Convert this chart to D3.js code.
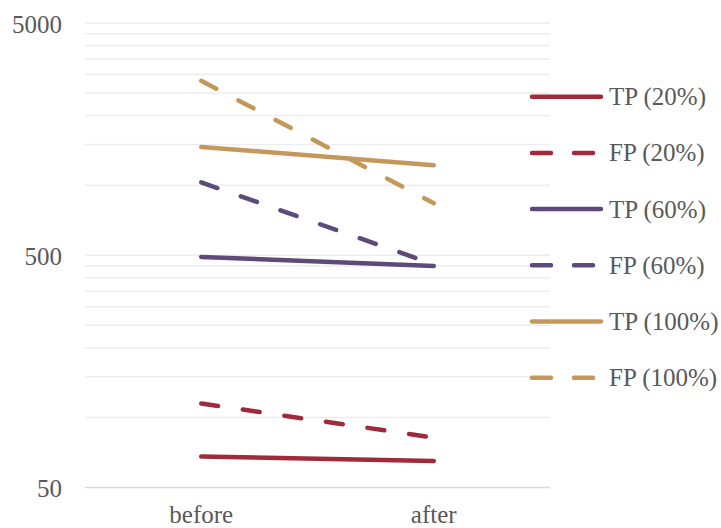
<!DOCTYPE html>
<html>
<head>
<meta charset="utf-8">
<script src="https://cdn.jsdelivr.net/npm/d3@7"></script>
<style>
  html, body { margin: 0; padding: 0; background: #fff; }
  svg { display: block; }
  text { font-family: "Liberation Serif", "Times New Roman", serif; fill: #595959; }
</style>
</head>
<body>
<svg id="chart" width="721" height="528"></svg>
<script>
// Stages on the x axis
const categories = ["before", "after"];

// Series labels, values per stage, colours and line style
const seriesNames = ["TP (20%)", "FP (20%)", "TP (60%)", "FP (60%)", "TP (100%)", "FP (100%)"];
const tp20 = [68, 65];
const fp20 = [115, 82];
const tp60 = [492, 449];
const fp60 = [1030, 457];
const tp100 = [1464, 1221];
const fp100 = [2818, 838];
const seriesValues = [tp20, fp20, tp60, fp60, tp100, fp100];
const seriesColors = ["#9E2A3A", "#9E2A3A", "#5D4A7B", "#5D4A7B", "#C4985A", "#C4985A"];
const seriesDashed = [false, true, false, true, false, true];

// Log axis labels and minor gridlines
const tickLabels = [50, 500, 5000];
const gridValues = [];
[50, 500].forEach(base => { for (let k = 1; k <= 10; k++) gridValues.push(base * k); });

const svg = d3.select("#chart");

const x = d3.scaleBand().domain(categories).range([85, 550]);
const y = d3.scaleLog().domain([50, 5000]).range([487.5, 23]);

// Gridlines
svg.append("g")
  .selectAll("line")
  .data(Array.from(new Set(gridValues)))
  .join("line")
  .attr("x1", 85).attr("x2", 550)
  .attr("y1", d => y(d)).attr("y2", d => y(d))
  .attr("stroke", d => d === 50 ? "#D9D9D9" : "#EDEDED")
  .attr("stroke-width", 1.5);

// Y axis labels
const yAxis = svg.append("g").attr("transform", "translate(62,0)")
  .call(d3.axisLeft(y).tickValues(tickLabels).tickFormat(d3.format("d")).tickSize(0).tickPadding(0));
yAxis.select(".domain").remove();
yAxis.selectAll("text")
  .attr("font-size", 25)
  .attr("font-family", "Liberation Serif, serif")
  .attr("fill", "#595959")
  .attr("dy", "0.36em");

// X axis labels
const xAxis = svg.append("g").attr("transform", "translate(0,487.5)")
  .call(d3.axisBottom(x).tickSize(0).tickPadding(0));
xAxis.select(".domain").remove();
xAxis.selectAll("text")
  .attr("font-size", 25)
  .attr("font-family", "Liberation Serif, serif")
  .attr("fill", "#595959")
  .attr("dy", null)
  .attr("y", 35.5);

// Series lines
const line = d3.line()
  .x((d, i) => x(categories[i]) + x.bandwidth() / 2)
  .y(d => y(d));

svg.append("g")
  .selectAll("path")
  .data(seriesValues)
  .join("path")
  .attr("d", d => line(d))
  .attr("fill", "none")
  .attr("stroke", (d, i) => seriesColors[i])
  .attr("stroke-width", 4.5)
  .attr("stroke-linecap", "round")
  .attr("stroke-dasharray", (d, i) => seriesDashed[i] ? "17,25" : null);

// Legend
const legend = svg.append("g")
  .selectAll("g")
  .data(seriesNames)
  .join("g")
  .attr("transform", (d, i) => `translate(0,${96.7 + i * 56.2})`);

legend.append("line")
  .attr("x1", 532).attr("x2", 601)
  .attr("y1", 0).attr("y2", 0)
  .attr("stroke", (d, i) => seriesColors[i])
  .attr("stroke-width", 4.5)
  .attr("stroke-linecap", "round")
  .attr("stroke-dasharray", (d, i) => seriesDashed[i] ? "19,23" : null);

legend.append("text")
  .attr("x", 609)
  .attr("y", 8.5)
  .attr("font-size", 25)
  .text(d => d);
</script>
</body>
</html>
